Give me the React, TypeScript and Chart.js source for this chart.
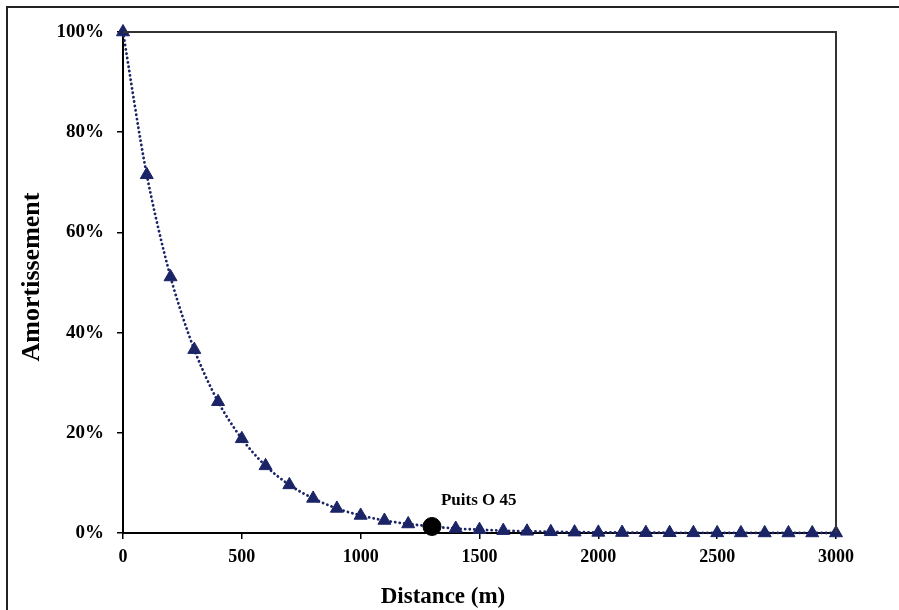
import React, { useEffect, useRef } from "react";
import { Chart, registerables } from "chart.js";

Chart.register(...registerables);

const distances = [0, 100, 200, 300, 400, 500, 600, 700, 800, 900, 1000, 1100, 1200, 1300, 1400, 1500, 1600, 1700, 1800, 1900, 2000, 2100, 2200, 2300, 2400, 2500, 2600, 2700, 2800, 2900, 3000];
const amortissement = [100, 71.5, 51.1, 36.6, 26.2, 18.8, 13.4, 9.6, 6.9, 4.9, 3.5, 2.5, 1.8, 1.3, 0.9, 0.66, 0.47, 0.34, 0.24, 0.17, 0.12, 0.09, 0.06, 0.045, 0.032, 0.023, 0.016, 0.012, 0.008, 0.006, 0.004];
const wellLabel = "Puits O 45";
const wellDistance = [1300];
const wellValue = [1.3];
const xTitle = "Distance (m)";
const yTitle = "Amortissement";

const FONT = "'Liberation Serif', 'Times New Roman', serif";
const NAVY = "#1b2466";

const decor = {
  id: "decor",
  beforeDraw(chart: any) {
    const ctx = chart.ctx;
    ctx.save();
    ctx.fillStyle = "#fff";
    ctx.fillRect(0, 0, chart.width, chart.height);
    ctx.strokeStyle = "#222";
    ctx.lineWidth = 2;
    ctx.beginPath();
    ctx.moveTo(7, chart.height + 2);
    ctx.lineTo(7, 7);
    ctx.lineTo(chart.width + 2, 7);
    ctx.stroke();
    ctx.restore();
  },
  afterDatasetsDraw(chart: any) {
    const ctx = chart.ctx;
    const a = chart.chartArea;
    ctx.save();
    ctx.strokeStyle = "#333";
    ctx.lineWidth = 2;
    ctx.beginPath();
    ctx.moveTo(a.left, a.top);
    ctx.lineTo(a.right, a.top);
    ctx.lineTo(a.right, a.bottom);
    ctx.stroke();
    // well label
    const meta = chart.getDatasetMeta(1);
    const pt = meta.data[0];
    ctx.fillStyle = "#000";
    ctx.font = `bold 17px ${FONT}`;
    ctx.textAlign = "left";
    ctx.textBaseline = "alphabetic";
    ctx.fillText(wellLabel, pt.x + 9, pt.y - 21);
    // axis titles
    ctx.font = `bold 23px ${FONT}`;
    ctx.textAlign = "center";
    ctx.fillText(xTitle, 443, 603);
    ctx.font = `bold 26px ${FONT}`;
    ctx.translate(39, 277);
    ctx.rotate(-Math.PI / 2);
    ctx.fillText(yTitle, 0, 0);
    ctx.restore();
  },
};

export default function App() {
  const ref = useRef<HTMLCanvasElement>(null);
  useEffect(() => {
    if (!ref.current) return;
    const chart = new Chart(ref.current, {
      type: "scatter",
      data: {
        datasets: [
          {
            data: distances.map((d, i) => ({ x: d, y: amortissement[i] })),
            order: 2,
            showLine: true,
            borderColor: NAVY,
            borderWidth: 2.8,
            borderDash: [0.1, 4.3],
            borderCapStyle: "round",
            tension: 0.3,
            pointStyle: "triangle",
            pointRadius: 7.5,
            pointBackgroundColor: NAVY,
            pointBorderColor: NAVY,
            pointBorderWidth: 1,
            clip: false,
          } as any,
          {
            data: wellDistance.map((d, i) => ({ x: d, y: wellValue[i] })),
            order: 1,
            showLine: false,
            pointStyle: "circle",
            pointRadius: 9,
            pointBackgroundColor: "#000",
            pointBorderColor: "#000",
            clip: false,
          } as any,
        ],
      },
      options: {
        animation: false,
        responsive: false,
        devicePixelRatio: 1,
        layout: { padding: { top: 32, right: 63, left: 0, bottom: 0 } },
        plugins: { legend: { display: false }, tooltip: { enabled: false } },
        scales: {
          x: {
            type: "linear",
            min: 0,
            max: 3000,
            ticks: { stepSize: 500, color: "#000", font: { family: FONT, size: 18, weight: "bold" }, padding: 8, maxRotation: 0, callback: (v: any) => String(v) },
            grid: { display: true, drawOnChartArea: false, drawTicks: true, tickLength: 6, color: "#000", lineWidth: 1.5 },
            border: { display: true, color: "#000", width: 2 },
            afterFit: (s: any) => { s.height = 77; },
          },
          y: {
            type: "linear",
            min: 0,
            max: 100,
            ticks: { stepSize: 20, color: "#000", font: { family: FONT, size: 19, weight: "bold" }, padding: 13, callback: (v: any) => v + "%" },
            grid: { display: true, drawOnChartArea: false, drawTicks: true, tickLength: 6, color: "#000", lineWidth: 1.5 },
            border: { display: true, color: "#000", width: 2 },
            afterFit: (s: any) => { s.width = 123; },
          },
        },
      },
      plugins: [decor],
    });
    return () => chart.destroy();
  }, []);
  return (
    <div style={{ position: "fixed", left: 0, top: 0, width: 899, height: 610, background: "#fff" }}>
      <canvas ref={ref} width={899} height={610} style={{ display: "block" }} />
    </div>
  );
}
